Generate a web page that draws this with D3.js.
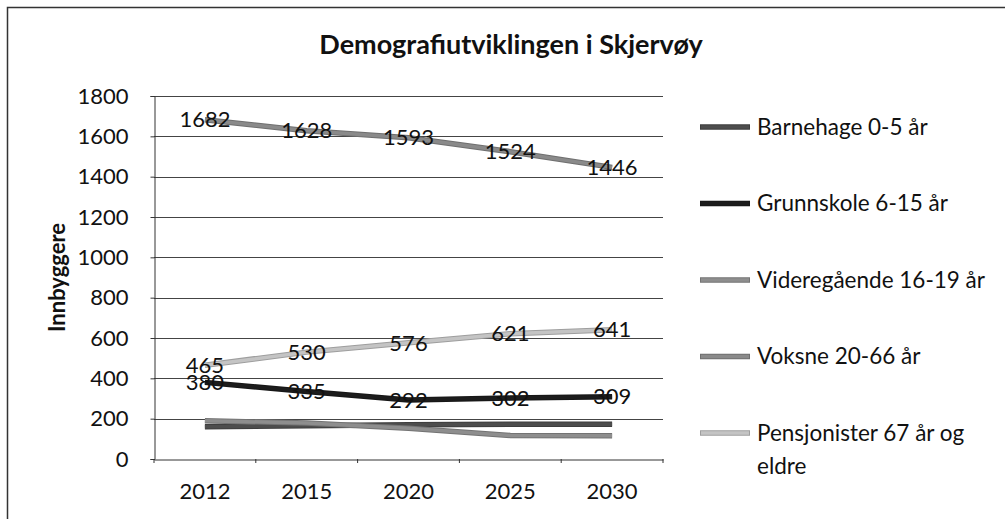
<!DOCTYPE html>
<html>
<head>
<meta charset="utf-8">
<script src="https://cdn.jsdelivr.net/npm/d3@7"></script>
<style>
  body { margin: 0; background: #fff; }
  text { font-family: Lato, "Open Sans", sans-serif; fill: #111; }
</style>
</head>
<body>
<div id="chart"></div>
<script>
const years = ["2012", "2015", "2020", "2025", "2030"];
const barnehage = [160, 165, 170, 172, 172];
const grunnskole = [380, 335, 292, 302, 309];
const videregaende = [190, 178, 152, 117, 115];
const voksne = [1682, 1628, 1593, 1524, 1446];
const pensjonister = [465, 530, 576, 621, 641];
const yTicks = [0, 200, 400, 600, 800, 1000, 1200, 1400, 1600, 1800];

const series = [
  { name: "Barnehage 0-5 år", values: barnehage, color: "#4d4d4d", labels: false },
  { name: "Grunnskole 6-15 år", values: grunnskole, color: "#1c1c1c", labels: true },
  { name: "Videregående 16-19 år", values: videregaende, color: "#8e8e8e", labels: false },
  { name: "Voksne 20-66 år", values: voksne, color: "#8a8a8a", labels: true },
  { name: "Pensjonister 67 år og|eldre", values: pensjonister, color: "#c4c4c4", labels: true }
];

const W = 1005, H = 519;
const plot = { left: 154, right: 663, top: 96, bottom: 459 };

const svg = d3.select("#chart").append("svg")
  .attr("width", W).attr("height", H);

// outer frame (only left and top edges visible in the crop)
svg.append("rect")
  .attr("x", 7.5).attr("y", 7.5)
  .attr("width", W + 20).attr("height", H + 20)
  .attr("fill", "none").attr("stroke", "#333").attr("stroke-width", 1.5);

const x = d3.scalePoint().domain(years)
  .range([plot.left, plot.right]).padding(0.5);
const xBand = d3.scaleBand().domain(years).range([plot.left, plot.right]);
const y = d3.scaleLinear().domain([0, 1800]).range([plot.bottom, plot.top]);

svg.append("text")
  .attr("x", 511).attr("y", 54)
  .attr("text-anchor", "middle")
  .style("font-size", "27px").style("font-weight", "bold")
  .text("Demografiutviklingen i Skjervøy");

// gridlines
svg.append("g").selectAll("line")
  .data(yTicks.filter(d => d > 0))
  .enter().append("line")
  .attr("x1", plot.left).attr("x2", plot.right)
  .attr("y1", d => Math.round(y(d)) + 0.5).attr("y2", d => Math.round(y(d)) + 0.5)
  .attr("stroke", "#444").attr("stroke-width", 1);

// y axis
const yAxis = svg.append("g")
  .attr("transform", `translate(${plot.left + 0.5},0)`)
  .call(d3.axisLeft(y).tickValues(yTicks).tickSize(4).tickPadding(22).tickFormat(d3.format("d")));
yAxis.select(".domain").attr("stroke", "#333");
yAxis.selectAll(".tick line").attr("stroke", "#333");
yAxis.selectAll("text").style("font-size", "22px").attr("fill", "#111");

// x axis
const xAxis = svg.append("g")
  .attr("transform", `translate(0,${plot.bottom + 0.5})`)
  .call(d3.axisBottom(xBand).tickSize(0).tickPadding(24));
xAxis.select(".domain").attr("stroke", "#333");
xAxis.selectAll("text").style("font-size", "22px").attr("fill", "#111");
svg.append("g").selectAll("line")
  .data(years.concat(["end"]))
  .enter().append("line")
  .attr("x1", (d, i) => plot.left + i * xBand.bandwidth())
  .attr("x2", (d, i) => plot.left + i * xBand.bandwidth())
  .attr("y1", plot.bottom).attr("y2", plot.bottom + 4)
  .attr("stroke", "#333");

svg.append("text")
  .attr("transform", `translate(57,${(plot.top + plot.bottom) / 2}) rotate(-90)`)
  .attr("text-anchor", "middle").attr("dy", "0.35em")
  .style("font-size", "22px").style("font-weight", "bold")
  .text("Innbyggere");

const line = d3.line()
  .x((d, i) => x(years[i]))
  .y(d => y(d));

const lines = svg.append("g");
series.forEach(s => {
  lines.append("path")
    .attr("d", line(s.values))
    .attr("fill", "none")
    .attr("stroke", d3.color(s.color).darker(0.6))
    .attr("stroke-width", 5.5);
  lines.append("path")
    .attr("d", line(s.values))
    .attr("fill", "none")
    .attr("stroke", s.color)
    .attr("stroke-width", 3.5);
});

// data labels, centred on the points
series.filter(s => s.labels).forEach(s => {
  svg.append("g").selectAll("text")
    .data(s.values)
    .enter().append("text")
    .attr("x", (d, i) => x(years[i]))
    .attr("y", d => y(d))
    .attr("dy", "0.35em")
    .attr("text-anchor", "middle")
    .style("font-size", "22px")
    .text(d => d);
});

// legend
const legend = svg.append("g");
const legendY = d3.scalePoint().domain(series.map(s => s.name)).range([127, 433]);
series.forEach(s => {
  const g = legend.append("g").attr("transform", `translate(700,${legendY(s.name)})`);
  g.append("line").attr("x1", 0).attr("x2", 50)
    .attr("stroke", d3.color(s.color).darker(0.6)).attr("stroke-width", 5.5);
  g.append("line").attr("x1", 1).attr("x2", 49)
    .attr("stroke", s.color).attr("stroke-width", 3.5);
  const t = g.append("text").attr("x", 57).attr("dy", "0.35em").style("font-size", "22.5px");
  s.name.split("|").forEach((part, i) => {
    t.append("tspan").attr("x", 57).attr("dy", i === 0 ? "0.35em" : "1.45em").text(part);
  });
});
</script>
</body>
</html>
